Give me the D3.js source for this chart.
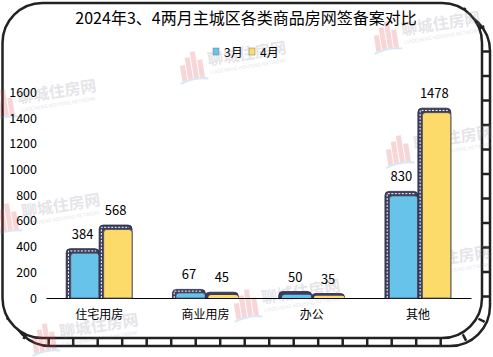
<!DOCTYPE html>
<html><head><meta charset="utf-8">
<script src="https://cdn.jsdelivr.net/npm/d3@7"></script>
<style>
html,body{margin:0;padding:0;background:#fff;}
svg{display:block;font-family:"Noto Sans CJK SC","Noto Sans",sans-serif;}
</style></head>
<body>
<svg id="c" width="493" height="357"></svg>
<script>
const title = "2024年3、4两月主城区各类商品房网签备案对比";
const categories = ["住宅用房", "商业用房", "办公", "其他"];
const seriesNames = ["3月", "4月"];
const march = [384, 67, 50, 830];
const april = [568, 45, 35, 1478];
const yTicks = [0, 200, 400, 600, 800, 1000, 1200, 1400, 1600];
const colors = ["#67C3E9", "#FDDB6B"];
const watermarkSpots = [[372,24],[178,54],[-12,92],[-8,206],[384,138],[232,292],[382,258],[30,326]];

const svg = d3.select("#c");

function watermark(g, x, y) {
  const w = g.append("g").attr("transform", `translate(${x},${y}) rotate(-9)`).attr("opacity", 0.22);
  const logo = [[0,12,5,16],[6,5,5,23],[12,0,5,28],[18,9,5,19]];
  w.selectAll("rect").data(logo).join("rect")
    .attr("x", d => d[0]).attr("y", d => d[1]).attr("width", d => d[2]).attr("height", d => d[3])
    .attr("fill", "#e0474c");
  w.append("path").attr("d", "M-2,30 Q12,25 26,29").attr("stroke", "#4aa3d8").attr("stroke-width", 2).attr("fill", "none");
  w.append("text").attr("x", 28).attr("y", 16).attr("font-size", 16).attr("font-weight", "bold")
    .attr("fill", "#8a8a98").text("聊城住房网");
  w.append("text").attr("x", 29).attr("y", 25).attr("font-size", 5)
    .attr("fill", "#8a8a98").text("LIAOCHENG HOUSING NETWORK");
}

// frame
const fx = 2.5, fy = 3, fw = 479.5, fh = 335, fr = 40, off = 8;
svg.append("rect").attr("x", fx + off).attr("y", fy + off).attr("width", fw).attr("height", fh)
  .attr("rx", fr).attr("fill", "#fff").attr("stroke", "#222").attr("stroke-width", 2.5);
svg.append("rect").attr("x", fx + off / 2).attr("y", fy + off / 2).attr("width", fw).attr("height", fh)
  .attr("rx", fr).attr("fill", "none").attr("stroke", "#222").attr("stroke-width", 7)
  .attr("stroke-dasharray", "2.5 22");
svg.append("rect").attr("x", fx).attr("y", fy).attr("width", fw).attr("height", fh)
  .attr("rx", fr).attr("fill", "#fff").attr("stroke", "#222").attr("stroke-width", 2.5);

const wm = svg.append("g");
watermarkSpots.forEach(p => watermark(wm, p[0], p[1]));

// title
svg.append("text").attr("x", 246).attr("y", 24).attr("text-anchor", "middle")
  .attr("font-size", 16).attr("fill", "#000").text(title);

// legend
const legX = [213, 249];
seriesNames.forEach((s, i) => {
  svg.append("rect").attr("x", legX[i]).attr("y", 48).attr("width", 6).attr("height", 7)
    .attr("fill", colors[i]).attr("stroke", "#777").attr("stroke-width", 0.5);
  svg.append("text").attr("x", legX[i] + 11).attr("y", 57).attr("font-size", 12).attr("fill", "#000").text(s);
});

// scales
const base = 298;
const y = d3.scaleLinear().domain([0, 1600]).range([base, 92.5]);
const x0 = d3.scaleBand().domain(categories).range([46, 471]).paddingInner(0.38).paddingOuter(0.19);
const x1 = d3.scaleBand().domain(seriesNames).range([0, x0.bandwidth()]);

// y axis labels
const yAxis = d3.axisLeft(y).tickValues(yTicks).tickFormat(d3.format("d")).tickSize(0).tickPadding(0);
const ya = svg.append("g").attr("transform", "translate(37,0)").call(yAxis);
ya.select(".domain").remove();
ya.selectAll("text").attr("font-size", 12.5).attr("fill", "#000")
  .attr("font-family", '"Noto Sans CJK SC","Noto Sans",sans-serif');

// x axis
const xAxis = d3.axisBottom(x0).tickSize(0).tickPadding(12);
const xa = svg.append("g").attr("transform", `translate(0,${base})`).call(xAxis);
xa.select(".domain").attr("stroke", "#000").attr("stroke-width", 1.2);
xa.selectAll("text").attr("font-size", 12).attr("fill", "#000")
  .attr("font-family", '"Noto Sans CJK SC","Noto Sans",sans-serif');

// bars
const data = [];
categories.forEach((c, i) => {
  data.push({ c, s: seriesNames[0], v: march[i], k: 0 });
  data.push({ c, s: seriesNames[1], v: april[i], k: 1 });
});

function topRounded(x, yt, w, h, r) {
  r = Math.min(r, h, w / 2);
  return `M${x},${yt + h} L${x},${yt + r} Q${x},${yt} ${x + r},${yt} L${x + w - r},${yt} Q${x + w},${yt} ${x + w},${yt + r} L${x + w},${yt + h} Z`;
}

const bars = svg.append("g");
data.forEach(d => {
  const bx = x0(d.c) + x1(d.s);
  const bw = x1.bandwidth();
  const yt = y(d.v);
  const h = base - yt;
  const t = h > 40 ? 4.5 : Math.min(3.5, h * 0.5);
  const g = bars.append("g");
  g.append("path").attr("d", topRounded(bx, yt, bw, h, 4))
    .attr("fill", "#3c3c5e").attr("stroke", "#2a2a44").attr("stroke-width", 0.8);
  if (h > 8) {
    g.append("path").attr("d", `M${bx + t / 2},${base} L${bx + t / 2},${yt + t / 2} L${bx + bw - 3},${yt + t / 2}`)
      .attr("fill", "none").attr("stroke", "#fff").attr("stroke-width", 1).attr("stroke-dasharray", "2 1.5");
  }
  g.append("path").attr("d", topRounded(bx + t, yt + t, bw - t, h - t, 3))
    .attr("fill", colors[d.k]).attr("stroke", "#4a4a5a").attr("stroke-width", h > 8 ? 0.8 : 0);
  g.append("text").attr("x", bx + bw / 2).attr("y", yt - 10).attr("text-anchor", "middle")
    .attr("font-size", 13).attr("fill", "#000").text(d.v);
});
</script>
</body></html>
